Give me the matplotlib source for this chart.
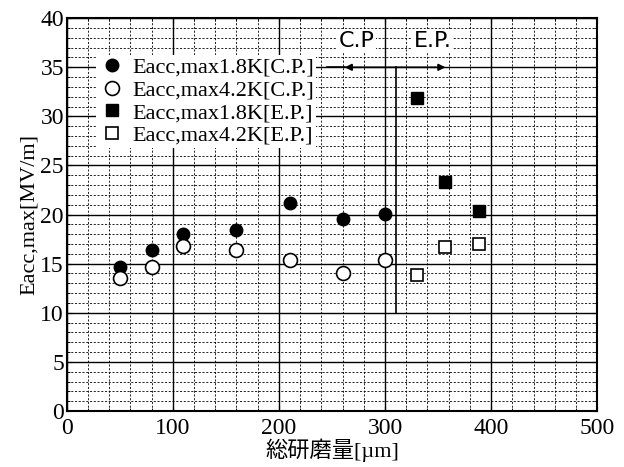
import numpy as np
import matplotlib.pyplot as plt
from matplotlib.ticker import MultipleLocator

plt.rcParams['font.family'] = ['Liberation Serif', 'Noto Sans CJK JP']

# C.P. (chemical polishing) data
cp_x = [50, 80, 110, 160, 210, 260, 300]
cp_18k = [14.7, 16.4, 18.0, 18.4, 21.2, 19.6, 20.1]
cp_42k = [13.5, 14.7, 16.8, 16.4, 15.4, 14.05, 15.4]

# E.P. (electropolishing) data
ep_x = [330, 357, 389]
ep_18k = [31.9, 23.3, 20.4]
ep_42k = [13.85, 16.7, 17.0]

labels = ['Eacc,max1.8K[C.P.]', 'Eacc,max4.2K[C.P.]',
          'Eacc,max1.8K[E.P.]', 'Eacc,max4.2K[E.P.]']

fig = plt.figure(figsize=(6.24, 4.67), dpi=100)
ax = fig.add_axes([0.107, 0.120, 0.850, 0.841])

ax.set_xlim(0, 500)
ax.set_ylim(0, 40)
ax.xaxis.set_major_locator(MultipleLocator(100))
ax.xaxis.set_minor_locator(MultipleLocator(20))
ax.yaxis.set_major_locator(MultipleLocator(5))
ax.yaxis.set_minor_locator(MultipleLocator(1))

ax.grid(which='major', color='black', lw=1.0, ls='-')
ax.grid(which='minor', color='black', lw=0.6, ls=(0, (2.5, 2)))
ax.set_axisbelow(True)
ax.tick_params(which='both', direction='in', top=True, right=True,
               labelsize=17)
ax.tick_params(axis='x', pad=5)
ax.tick_params(axis='y', pad=2)
for s in ax.spines.values():
    s.set_linewidth(1.5)

ax.plot(cp_x, cp_18k, 'o', color='black', ms=9, label=labels[0], zorder=3)
ax.plot(cp_x, cp_42k, 'o', mfc='white', mec='black', mew=1.2, ms=10,
        label=labels[1], zorder=3)
ax.plot(ep_x, ep_18k, 's', color='black', ms=8, label=labels[2], zorder=3)
ax.plot(ep_x, ep_42k, 's', mfc='white', mec='black', mew=1.2, ms=9,
        label=labels[3], zorder=3)

leg = ax.legend(loc='upper left', bbox_to_anchor=(0.035, 0.935), fontsize=16,
                frameon=True, fancybox=False, edgecolor='none',
                facecolor='white', framealpha=1, handletextpad=0.3,
                labelspacing=0.1, borderpad=0.1, handlelength=1.2)

# C.P. / E.P. divider
ax.plot([310, 310], [10, 35], color='black', lw=1.2)
ax.plot([245, 262], [35, 35], color='black', lw=1.2)
ax.annotate('', xy=(262, 35), xytext=(357, 35),
            arrowprops=dict(arrowstyle='<|-|>', color='black', lw=1.2,
                            mutation_scale=10, shrinkA=0, shrinkB=0))
bb = dict(facecolor='white', edgecolor='none', pad=1)
ax.text(273, 37.7, 'C.P', ha='center', va='center', fontsize=16,
        family='DejaVu Sans', bbox=bb)
ax.text(345, 37.7, 'E.P.', ha='center', va='center', fontsize=16,
        family='DejaVu Sans', bbox=bb)

ax.set_xlabel('総研磨量[µm]', fontsize=16, labelpad=0)
ax.set_ylabel('Eacc,max[MV/m]', fontsize=16, labelpad=1)

fig.savefig('out.png', dpi=100)
